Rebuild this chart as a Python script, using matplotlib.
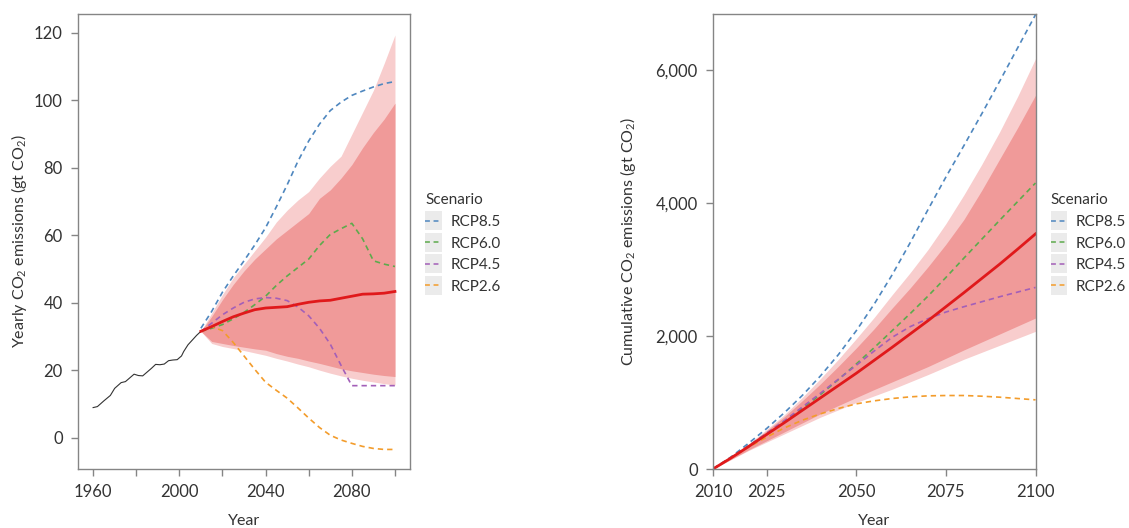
import matplotlib
matplotlib.use("Agg")
import matplotlib.pyplot as plt
from matplotlib.lines import Line2D
from matplotlib.patches import Rectangle
from matplotlib.legend_handler import HandlerLine2D
from matplotlib.ticker import FuncFormatter

plt.rcParams['font.family'] = ['Lato', 'DejaVu Sans']
plt.rcParams['mathtext.fontset'] = 'custom'
plt.rcParams['mathtext.rm'] = 'Lato'
plt.rcParams['mathtext.it'] = 'Lato:italic'

# ---- data: yearly emissions (left) ----
hist_years = [1960, 1962, 1965, 1968, 1970, 1973, 1975, 1977, 1979, 1981, 1983,
              1985, 1987, 1989, 1991, 1993, 1995, 1997, 1999, 2001, 2002, 2004,
              2006, 2008, 2010]
hist_vals = [9.0, 9.3, 11.0, 12.6, 14.7, 16.4, 16.7, 17.8, 18.9, 18.5, 18.4,
             19.5, 20.6, 21.8, 21.7, 21.9, 22.9, 23.1, 23.2, 24.3, 25.6, 27.6,
             29.0, 30.4, 31.6]

proj_years = [2010, 2015, 2020, 2025, 2030, 2035, 2040, 2045, 2050, 2055, 2060,
              2065, 2070, 2075, 2080, 2085, 2090, 2095, 2100]
median = [31.6, 33.0, 34.5, 35.9, 37.0, 38.0, 38.5, 38.7, 38.9, 39.6, 40.2,
          40.6, 40.8, 41.4, 42.0, 42.6, 42.7, 42.9, 43.4]
inner_hi = [31.6, 36.0, 41.0, 45.5, 49.5, 53.0, 56.0, 59.0, 61.5, 64.0, 66.5,
            71.0, 73.5, 77.0, 81.0, 86.0, 90.5, 94.5, 99.2]
outer_hi = [31.6, 37.0, 42.5, 47.5, 51.5, 55.5, 59.5, 64.0, 67.5, 70.5, 73.0,
            77.0, 80.5, 83.5, 90.0, 96.5, 103.0, 111.0, 119.4]
inner_lo = [31.6, 28.6, 28.0, 27.4, 26.9, 26.4, 26.0, 25.0, 24.2, 23.6, 22.8,
            22.1, 21.3, 20.5, 19.9, 19.4, 18.9, 18.5, 18.2]
outer_lo = [31.6, 28.0, 27.1, 26.5, 25.9, 25.2, 24.5, 23.6, 22.8, 21.9, 21.1,
            20.1, 19.2, 18.4, 17.7, 17.1, 16.6, 16.1, 15.7]

rcp85 = [32.5, 37.5, 43.2, 48.0, 52.5, 57.2, 62.3, 68.5, 75.0, 82.0, 88.0,
         93.0, 97.0, 99.5, 101.5, 102.8, 104.0, 105.0, 105.6]
rcp60 = [31.6, 32.5, 33.6, 35.3, 37.2, 39.5, 42.0, 45.2, 48.0, 50.5, 53.0,
         57.0, 60.3, 62.0, 63.6, 59.0, 52.5, 51.5, 50.8]
rcp45 = [31.6, 34.0, 36.5, 38.5, 40.2, 41.2, 41.6, 41.4, 40.7, 38.8, 36.2,
         32.5, 27.8, 21.5, 15.5, 15.5, 15.5, 15.5, 15.5]
rcp26 = [31.6, 33.0, 31.8, 28.3, 24.3, 20.3, 16.5, 14.1, 11.8, 8.9, 5.9,
         3.1, 0.8, -0.6, -1.6, -2.5, -3.1, -3.4, -3.4]

# ---- data: cumulative emissions (right) ----
cum_years = [2010, 2015, 2020, 2025, 2030, 2035, 2040, 2045, 2050, 2055, 2060,
             2065, 2070, 2075, 2080, 2085, 2090, 2095, 2100]
cum_median = [0, 165, 340, 520, 700, 885, 1070, 1255, 1440, 1635, 1830,
              2030, 2230, 2440, 2650, 2865, 3080, 3305, 3535]
cum_inner_hi = [0, 180, 370, 575, 790, 1030, 1280, 1545, 1820, 2110, 2420,
                2720, 3040, 3380, 3750, 4190, 4660, 5130, 5620]
cum_outer_hi = [0, 185, 380, 595, 820, 1080, 1360, 1650, 1960, 2280, 2620,
                2950, 3300, 3690, 4120, 4580, 5070, 5600, 6170]
cum_inner_lo = [0, 145, 290, 425, 560, 695, 830, 955, 1075, 1195, 1310,
                1425, 1540, 1665, 1790, 1910, 2030, 2150, 2270]
cum_outer_lo = [0, 140, 280, 405, 530, 655, 780, 890, 1000, 1100, 1200,
                1310, 1420, 1535, 1650, 1755, 1860, 1965, 2070]
cum85 = [0, 180, 390, 610, 850, 1110, 1400, 1720, 2080, 2480, 2920,
         3400, 3900, 4390, 4860, 5340, 5830, 6330, 6830]
cum60 = [0, 170, 350, 535, 720, 915, 1120, 1345, 1580, 1825, 2080,
         2335, 2600, 2880, 3170, 3455, 3740, 4020, 4300]
cum45 = [0, 172, 350, 540, 730, 935, 1140, 1350, 1560, 1775, 1980,
         2140, 2260, 2360, 2440, 2515, 2590, 2660, 2730]
cum26 = [0, 168, 330, 480, 620, 735, 830, 910, 980, 1025, 1060,
         1085, 1100, 1105, 1105, 1095, 1080, 1060, 1040]

scenarios = ['RCP8.5', 'RCP6.0', 'RCP4.5', 'RCP2.6']
colors = ['#4f87bf', '#5daa4c', '#a35fb8', '#f39c2b']

TEXT = '#333333'
SPINE = '#858585'
DARK = '#f09a99'
LIGHT = '#f8cdcd'
RED = '#e0191b'
DASH = (3.2, 2.4)


class KeyHandler(HandlerLine2D):
    # ggplot-like grey key background behind the dashed sample
    def create_artists(self, legend, orig_handle, xdescent, ydescent,
                       width, height, fontsize, trans):
        bg = Rectangle((-xdescent, -ydescent - 3), width, height + 6,
                       facecolor='#ebebeb', edgecolor='none', transform=trans)
        arts = super().create_artists(legend, orig_handle, xdescent, ydescent,
                                      width, height, fontsize, trans)
        return [bg] + list(arts)


def style_axes(ax):
    for s in ax.spines.values():
        s.set_color(SPINE)
        s.set_linewidth(1.0)
    ax.tick_params(colors=SPINE, labelcolor=TEXT, labelsize=12,
                   length=5, width=1.0, direction='out', pad=6)


def add_legend(fig, x, y):
    handles = [Line2D([0], [0], color=c, lw=1.1, ls=(0, DASH)) for c in colors]
    leg = fig.legend(handles, scenarios, title='Scenario', loc='upper left',
                     bbox_to_anchor=(x, y), frameon=False, fontsize=11,
                     title_fontsize=11, handlelength=1.1, handletextpad=0.55,
                     labelspacing=0.5, alignment='left', borderpad=0,
                     borderaxespad=0, handler_map={Line2D: KeyHandler()})
    leg.get_title().set_color(TEXT)
    for t in leg.get_texts():
        t.set_color(TEXT)


fig = plt.figure(figsize=(11.29, 5.28), dpi=100)
ax1 = fig.add_axes([0.0691, 0.1117, 0.2941, 0.8617])
ax2 = fig.add_axes([0.6315, 0.1117, 0.2857, 0.8617])

# left: yearly emissions
ax1.fill_between(proj_years, outer_lo, outer_hi, color=LIGHT, lw=0)
ax1.fill_between(proj_years, inner_lo, inner_hi, color=DARK, lw=0)
ax1.plot(hist_years, hist_vals, color='#333333', lw=0.8)
for vals, c in zip([rcp85, rcp60, rcp45, rcp26], colors):
    ax1.plot(proj_years, vals, color=c, lw=1.2, ls=(0, DASH))
ax1.plot(proj_years, median, color=RED, lw=2.0)

ax1.set_xlim(1953, 2107)
ax1.set_ylim(-9.2, 125.6)
ax1.set_xticks(range(1960, 2101, 20))
ax1.set_xticklabels([str(y) if y % 40 == 0 else '' for y in range(1960, 2101, 20)])
ax1.set_yticks(range(0, 121, 20))
style_axes(ax1)
ax1.set_xlabel('Year', fontsize=11.5, color=TEXT)
ax1.set_ylabel('Yearly CO$_2$ emissions (gt CO$_2$)', fontsize=11.5, color=TEXT)
ax1.xaxis.set_label_coords(0.5, -0.099)
ax1.yaxis.set_label_coords(-0.148, 0.5)

# right: cumulative emissions
ax2.fill_between(cum_years, cum_outer_lo, cum_outer_hi, color=LIGHT, lw=0)
ax2.fill_between(cum_years, cum_inner_lo, cum_inner_hi, color=DARK, lw=0)
for vals, c in zip([cum85, cum60, cum45, cum26], colors):
    ax2.plot(cum_years, vals, color=c, lw=1.2, ls=(0, DASH))
ax2.plot(cum_years, cum_median, color=RED, lw=2.0)

ax2.set_xlim(2010, 2100)
ax2.set_ylim(0, 6840)
ax2.set_xticks([2010, 2025, 2050, 2075, 2100])
ax2.set_yticks([0, 2000, 4000, 6000])
ax2.yaxis.set_major_formatter(FuncFormatter(lambda v, p: f'{v:,.0f}'))
style_axes(ax2)
ax2.set_xlabel('Year', fontsize=11.5, color=TEXT)
ax2.set_ylabel('Cumulative CO$_2$ emissions (gt CO$_2$)', fontsize=11.5, color=TEXT)
ax2.xaxis.set_label_coords(0.5, -0.099)
ax2.yaxis.set_label_coords(-0.233, 0.5)

add_legend(fig, 0.3765, 0.634)
add_legend(fig, 0.9305, 0.634)

fig.savefig('out.png', dpi=100)
